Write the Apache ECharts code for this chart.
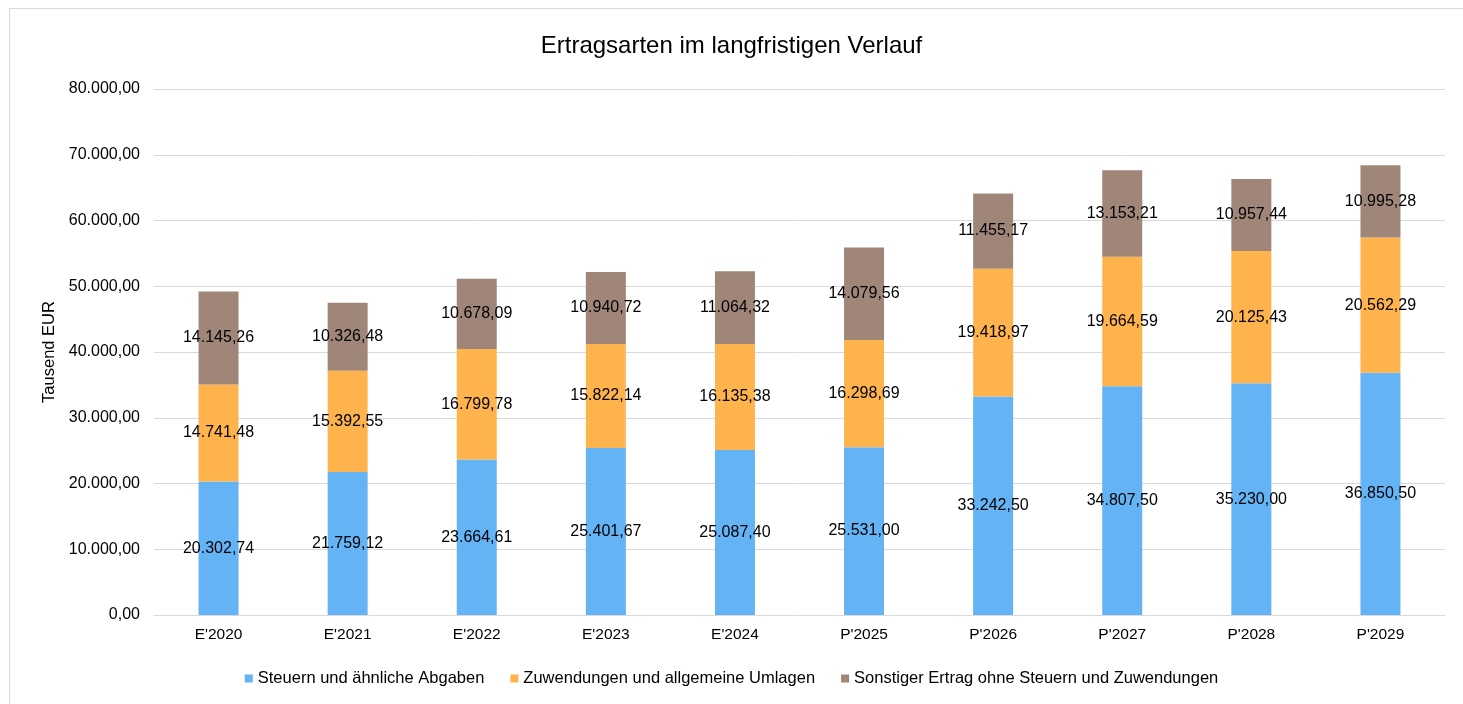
<!DOCTYPE html>
<html>
<head>
<meta charset="utf-8">
<script src="https://cdn.jsdelivr.net/npm/echarts@6/dist/echarts.min.js"></script>
<style>
    html, body { margin: 0; padding: 0; background: #fff; }
    #frame { position: absolute; left: 9px; top: 8px; width: 1470px; height: 720px; border: 1px solid #d9d9d9; box-sizing: border-box; }
    #chart { position: absolute; left: 0; top: 0; width: 1463px; height: 704px; }
</style>
</head>
<body>
<div id="frame"></div>
<div id="chart"></div>
<script>
// Kategorien und Werte (Tausend EUR)
let categories = ["E'2020", "E'2021", "E'2022", "E'2023", "E'2024", "P'2025", "P'2026", "P'2027", "P'2028", "P'2029"];
let steuern = [20302.74, 21759.12, 23664.61, 25401.67, 25087.40, 25531.00, 33242.50, 34807.50, 35230.00, 36850.50];
let zuwendungen = [14741.48, 15392.55, 16799.78, 15822.14, 16135.38, 16298.69, 19418.97, 19664.59, 20125.43, 20562.29];
let sonstige = [14145.26, 10326.48, 10678.09, 10940.72, 11064.32, 14079.56, 11455.17, 13153.21, 10957.44, 10995.28];
let seriesNames = ['Steuern und ähnliche Abgaben', 'Zuwendungen und allgemeine Umlagen', 'Sonstiger Ertrag ohne Steuern und Zuwendungen'];
let colorList = ['#63b3f5', '#ffb34d', '#a08679'];

function fmt(v) {
    let parts = v.toFixed(2).split('.');
    parts[0] = parts[0].replace(/\B(?=(\d{3})+(?!\d))/g, '.');
    return parts[0] + ',' + parts[1];
}

let font = 'Liberation Sans, Arial, sans-serif';
let chart = echarts.init(document.getElementById('chart'));

let seriesArr = [];
[steuern, zuwendungen, sonstige].forEach((d, i) => {
    seriesArr.push({
        name: seriesNames[i],
        type: 'bar',
        stack: 'total',
        barWidth: 40,
        data: d,
        itemStyle: { color: colorList[i] },
        label: {
            show: true,
            position: 'inside',
            color: '#000',
            fontFamily: font,
            fontSize: 16,
            formatter: p => fmt(p.value)
        }
    });
});

const option = {
    animation: false,
    title: {
        text: 'Ertragsarten im langfristigen Verlauf',
        left: 'center',
        top: 29,
        textStyle: { fontFamily: font, fontSize: 24, fontWeight: 'normal', color: '#000' }
    },
    color: colorList,
    legend: {
        bottom: 12,
        left: 'center',
        itemWidth: 8,
        itemHeight: 8,
        itemGap: 26,
        icon: 'rect',
        selectedMode: false,
        textStyle: { fontFamily: font, fontSize: 16.5, color: '#000', padding: [0, 0, 0, 0] },
        data: seriesNames
    },
    grid: {
        left: 154,
        right: 18,
        top: 89,
        bottom: 89
    },
    xAxis: {
        type: 'category',
        data: categories,
        axisTick: { show: false },
        axisLine: { lineStyle: { color: '#d9d9d9', width: 1 } },
        axisLabel: { color: '#000', fontFamily: font, fontSize: 15.5, margin: 12 }
    },
    yAxis: {
        type: 'value',
        min: 0,
        max: 80000,
        interval: 10000,
        name: 'Tausend EUR',
        nameLocation: 'middle',
        nameGap: 94,
        nameTextStyle: { color: '#000', fontFamily: font, fontSize: 16.5 },
        axisLine: { show: false },
        axisTick: { show: false },
        splitLine: { lineStyle: { color: '#d9d9d9', width: 1 } },
        axisLabel: { color: '#000', fontFamily: font, fontSize: 16, margin: 14, formatter: v => fmt(v) }
    },
    series: seriesArr
};
chart.setOption(option);
</script>
</body>
</html>
